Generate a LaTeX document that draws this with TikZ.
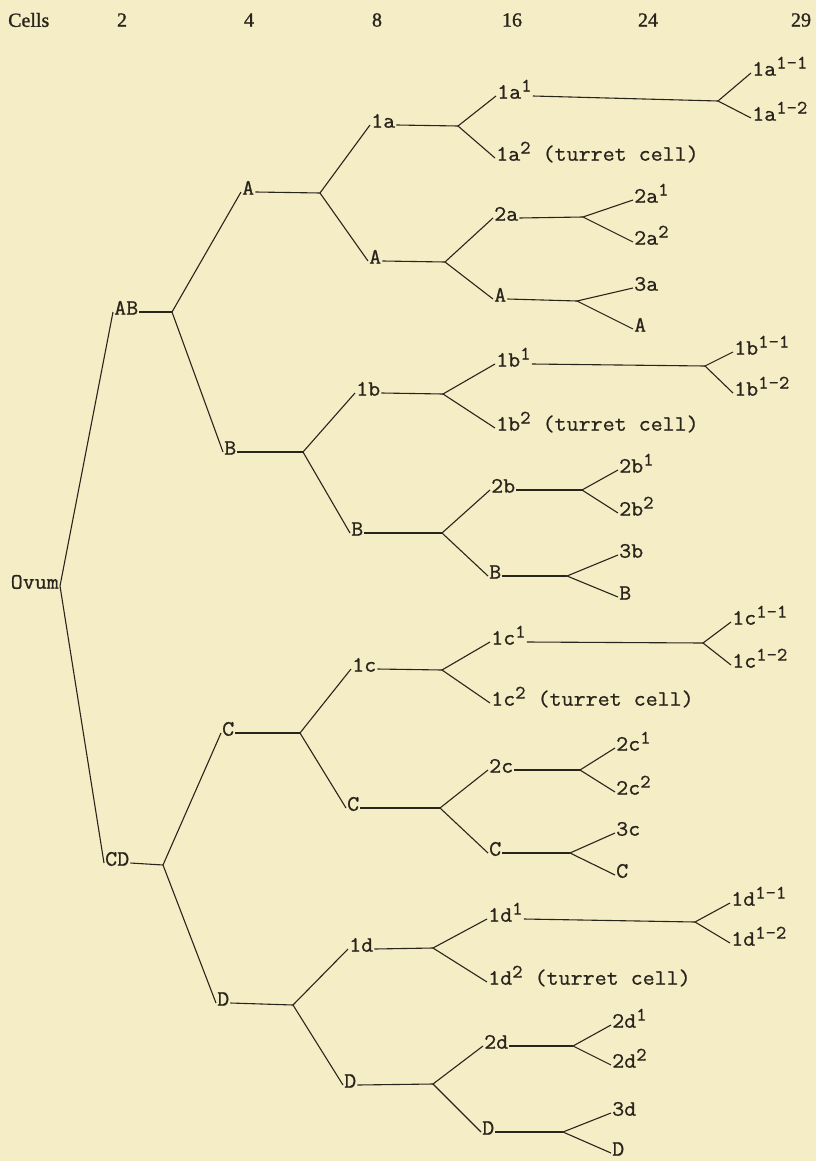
\documentclass[tikz,border=0pt]{standalone}
\usepackage{fontspec}
\newfontfamily\typewriter[FakeBold=0.9,FakeStretch=1.06]{Latin Modern Mono}
\newfontfamily\headfont[FakeBold=1.2]{Liberation Serif}
\usetikzlibrary{positioning}
\definecolor{paper}{HTML}{F5EDC6}
\definecolor{ink}{HTML}{2A251C}
\newcommand{\cellsup}[1]{\raisebox{0.75ex}{\fontsize{19}{19}\selectfont #1}}
\begin{document}
\begin{tikzpicture}[x=1pt,y=-1pt,
    cell/.style={anchor=west,inner sep=1pt,text height=1.5ex,text depth=.25ex,
      font=\typewriter\fontsize{22}{26}\selectfont,text=ink},
    head/.style={font=\headfont\fontsize{20}{24}\selectfont,text=ink},
    link/.style={draw=ink,line width=1.1pt}]
  \fill[paper] (0,0) rectangle (816,1161);
  \useasboundingbox (0,0) rectangle (816,1161);
  % header
  \node[head,anchor=west,inner sep=0pt] (cells) at (8,20) {Cells};
  \node[head] (n2) at (122,20) {2};
  \node[head] (n4) at (249,20) {4};
  \node[head] (n8) at (377,20) {8};
  \node[head] (n16) at (512,20) {16};
  \node[head] (n24) at (648,20) {24};
  \node[head] (n29) at (801,20) {29};
  % 1 and 2 cells
  \node[cell,anchor=east] (ovum) at (60,586) {Ovum};
  \node[cell] (ab) at (113,312) {AB};
  \node[cell] (cd) at (104,863) {CD};
  \coordinate (fab) at (172,312);
  \coordinate (fcd) at (163,865);
  % 4 cells
  \node[cell] (a) at (241,192) {A};
  \node[cell] (b) at (223,452) {B};
  \node[cell] (c) at (221,733) {C};
  \node[cell] (d) at (216,1003) {D};
  \coordinate (fa) at (320,193);
  \coordinate (fb) at (303,452);
  \coordinate (fc) at (300,733);
  \coordinate (fd) at (293,1005);
  % 8 cells
  \node[cell] (oa) at (370,125) {1a};
  \node[cell] (a2) at (368,261) {A};
  \node[cell] (ob) at (355,393) {1b};
  \node[cell] (b2) at (350,533) {B};
  \node[cell] (oc) at (351,669) {1c};
  \node[cell] (c2) at (346,808) {C};
  \node[cell] (od) at (348,949) {1d};
  \node[cell] (d2) at (343,1085) {D};
  \coordinate (foa) at (458,126);
  \coordinate (fa2) at (445,262);
  \coordinate (fob) at (443,394);
  \coordinate (fb2) at (442,533);
  \coordinate (foc) at (442,670);
  \coordinate (fc2) at (440,808);
  \coordinate (fod) at (433,948);
  \coordinate (fd2) at (433,1084);
  % 16 cells
  \node[cell] (oa1) at (496,96) {1a\cellsup{1}};
  \node[cell] (oa2) at (495,158) {1a\cellsup{2} (turret cell)};
  \node[cell] (ta) at (493,218) {2a};
  \node[cell] (a3) at (493,299) {A};
  \node[cell] (ob1) at (495,364) {1b\cellsup{1}};
  \node[cell] (ob2) at (495,428) {1b\cellsup{2} (turret cell)};
  \node[cell] (tb) at (490,490) {2b};
  \node[cell] (b3) at (488,576) {B};
  \node[cell] (oc1) at (490,642) {1c\cellsup{1}};
  \node[cell] (oc2) at (490,703) {1c\cellsup{2} (turret cell)};
  \node[cell] (tc) at (488,770) {2c};
  \node[cell] (c3) at (488,853) {C};
  \node[cell] (od1) at (487,919) {1d\cellsup{1}};
  \node[cell] (od2) at (487,982) {1d\cellsup{2} (turret cell)};
  \node[cell] (td) at (483,1046) {2d};
  \node[cell] (d3) at (481,1132) {D};
  \coordinate (foa1) at (718,101);
  \coordinate (fta) at (583,217);
  \coordinate (fa3) at (577,301);
  \coordinate (fob1) at (705,366);
  \coordinate (ftb) at (582,490);
  \coordinate (fb3) at (567,576);
  \coordinate (foc1) at (703,643);
  \coordinate (ftc) at (580,770);
  \coordinate (fc3) at (570,853);
  \coordinate (fod1) at (695,922);
  \coordinate (ftd) at (573,1046);
  \coordinate (fd3) at (563,1132);
  % 24 and 29 cells
  \node[cell] (oa11) at (751,73) {1a\cellsup{1-1}};
  \node[cell] (oa12) at (751,118) {1a\cellsup{1-2}};
  \node[cell] (ta1) at (633,200) {2a\cellsup{1}};
  \node[cell] (ta2) at (633,242) {2a\cellsup{2}};
  \node[cell] (tha) at (633,288) {3a};
  \node[cell] (a4) at (633,329) {A};
  \node[cell] (ob11) at (733,352) {1b\cellsup{1-1}};
  \node[cell] (ob12) at (733,393) {1b\cellsup{1-2}};
  \node[cell] (tb1) at (618,470) {2b\cellsup{1}};
  \node[cell] (tb2) at (618,513) {2b\cellsup{2}};
  \node[cell] (thb) at (618,555) {3b};
  \node[cell] (b4) at (618,597) {B};
  \node[cell] (oc11) at (731,622) {1c\cellsup{1-1}};
  \node[cell] (oc12) at (731,665) {1c\cellsup{1-2}};
  \node[cell] (tc1) at (615,748) {2c\cellsup{1}};
  \node[cell] (tc2) at (615,792) {2c\cellsup{2}};
  \node[cell] (thc) at (615,833) {3c};
  \node[cell] (c4) at (615,875) {C};
  \node[cell] (od11) at (730,903) {1d\cellsup{1-1}};
  \node[cell] (od12) at (730,943) {1d\cellsup{1-2}};
  \node[cell] (td1) at (611,1025) {2d\cellsup{1}};
  \node[cell] (td2) at (611,1065) {2d\cellsup{2}};
  \node[cell] (thd) at (611,1113) {3d};
  \node[cell] (d4) at (611,1153) {D};
  % connectors
  \draw[link] (ab.west) -- (ovum.east) -- (cd.west);
  \foreach \p/\f in {ab/fab,cd/fcd,a/fa,b/fb,c/fc,d/fd,
      oa/foa,a2/fa2,ob/fob,b2/fb2,oc/foc,c2/fc2,od/fod,d2/fd2,
      oa1/foa1,ta/fta,a3/fa3,ob1/fob1,tb/ftb,b3/fb3,
      oc1/foc1,tc/ftc,c3/fc3,od1/fod1,td/ftd,d3/fd3}
    \draw[link] (\p.east) -- (\f);
  \foreach \f/\u/\l in {fab/a/b,fcd/c/d,fa/oa/a2,fb/ob/b2,fc/oc/c2,fd/od/d2,
      foa/oa1/oa2,fa2/ta/a3,fob/ob1/ob2,fb2/tb/b3,
      foc/oc1/oc2,fc2/tc/c3,fod/od1/od2,fd2/td/d3,
      foa1/oa11/oa12,fta/ta1/ta2,fa3/tha/a4,fob1/ob11/ob12,ftb/tb1/tb2,fb3/thb/b4,
      foc1/oc11/oc12,ftc/tc1/tc2,fc3/thc/c4,fod1/od11/od12,ftd/td1/td2,fd3/thd/d4}
    \draw[link] (\u.west) -- (\f) -- (\l.west);
\end{tikzpicture}
\end{document}
